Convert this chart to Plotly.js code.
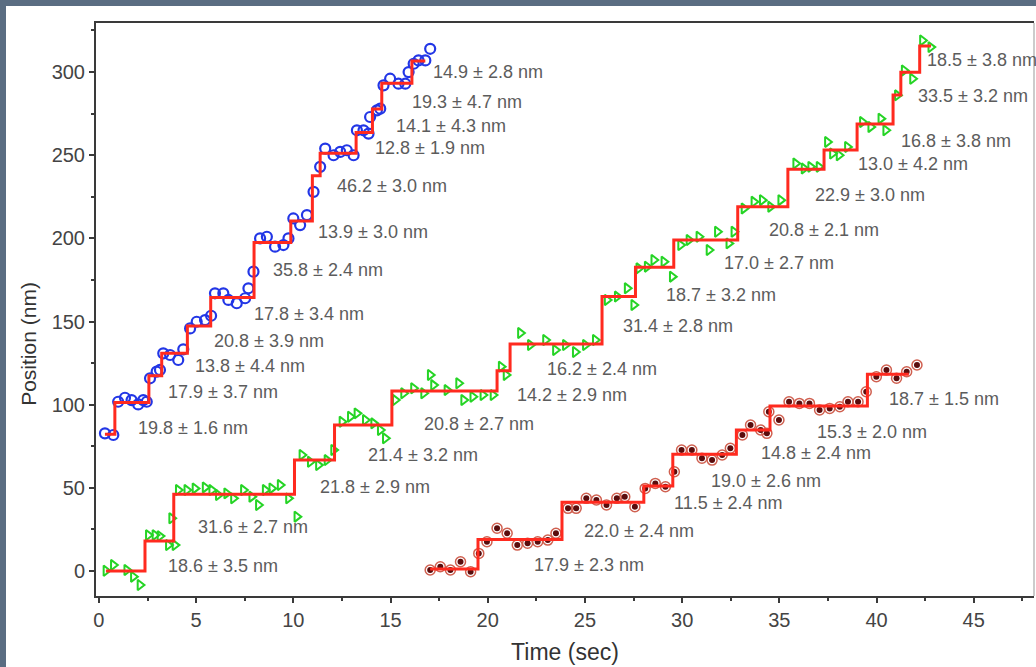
<!DOCTYPE html>
<html>
<head>
<meta charset="utf-8">
<script src="https://cdn.plot.ly/plotly-3.0.1.min.js"></script>
<style>
html,body{margin:0;padding:0;background:#5a6d82;width:1036px;height:667px;overflow:hidden;}
#chart{position:absolute;left:6px;top:6px;width:1030px;height:661px;background:#fff;}
</style>
</head>
<body>
<div id="chart"></div>
<script>
// ---- Blue trace (open circles) ----
const blueT = [0.31,0.74, 0.99,1.34,1.68,2.02,2.28,2.46, 2.63,2.97,3.14, 3.31,3.66,4.08,4.34,
  4.69,5.03,5.46,5.77, 5.97,6.40,6.66,7.09,7.52,7.69, 7.95, 8.29,8.64,9.06,9.49,9.75,
  10.00,10.35,10.70, 11.04, 11.38, 11.64,12.07,12.41,12.75,13.10, 13.27,13.61,13.87, 13.95,
  14.30,14.47, 14.64,14.98,15.41,15.76, 15.93,16.19, 16.44,16.79,17.04];
const blueV = [82.8,81.8, 101.8,104.2,102.8,100.2,102.8,101.8, 115.9,119.9,120.9, 130.9,129.9,126.9,133.3,
  145.9,149.9,150.9,153.5, 167,167,163,161,164,170, 180, 200,201,195,196,200,
  212,208,214, 228, 243, 254,250,252,253,250, 265,265,263, 273,
  277,278, 292,296,293,293, 300,305, 307,307,314];
const blueStepT = [0.31,0.82,2.57,3.23,4.55,5.75,7.98,9.87,10.98,11.38,13.23,14.07,14.55,16.10,16.79];
const blueStepV = [82.2,101.4,117.4,130.9,147.3,164.4,197.6,210.5,237.7,251.2,263.6,277.8,293.3,306.7,306.7];

// ---- Green trace (open right triangles) ----
const greenT = [0.36,0.74,1.43,1.77,2.11, 2.54,2.88,3.14,3.57,3.91, 3.74,
  4.08,4.52,4.94,5.46,5.80,6.14,6.57,6.92,7.43,7.86,8.20,8.55,8.89,9.32,9.75, 10.18,
  10.44,10.87,11.29,11.73,12.07, 12.50,12.93,13.27,13.70,14.13,14.47,14.73,
  15.24,15.67,16.18,16.70,17.04,17.21,17.90,18.50,18.76,19.23,19.75,20.27, 20.69,20.94,
  21.68,22.19,22.97,23.48,23.99,24.50,25.02,25.53,
  26.14,26.66,27.17,27.51, 27.77,28.20,28.54,29.06,29.49,
  29.92,30.35,30.86,31.38,31.81,32.40,32.66,
  33.18,33.69,34.12,34.55,35.07, 35.84,36.27,36.61,37.04,
  37.47,37.73,38.07,38.50, 39.27,39.70,40.22,40.47, 41.07, 41.42,41.85, 42.36,42.79];
const greenV = [0.2,3.6,0.6,-3.4,-8.4, 21.6,21.6,21.0,15.6,15.6, 31.7,
  48.7,48.7,49.7,50.3,48.7,45.7,46.7,43.7,48.7,44.7,39.7,48.7,49.7,51.7,43.7, 32.7,
  69.8,65.7,63.7,66.7,72.8, 89.8,92.8,94.8,90.8,88.8,84.8,79.8,
  102.8,106.9,109.9,106.9,117.9,111.8,108.8,112.9,102.8,104.8,105.8,105.8, 122.9,117.9,
  143.1,135.9,138.9,132.9,135.9,131.7,135.9,138.9,
  163,165,170,160, 182,183,187,186,177,
  196,199,201,193,204,197,204,
  218,222,223,219,223, 245,242,243,243,
  258,251,250,255, 270,267,272,265, 286, 301,296, 319,315];
const greenStepT = [0.36,2.37,3.85,10.06,12.12,15.07,20.48,21.15,25.88,27.60,29.57,32.86,35.44,37.30,39.00,40.85,41.25,42.22,42.80];
const greenStepV = [0,18,46.1,66.7,87.8,108.2,120.5,136.5,165.0,182.6,199.0,219.0,241.5,253.2,268.8,286.2,299.9,315.7,315.7];

// ---- Dark red trace (half-filled circles) ----
const redT = [17.04,17.56,18.08,18.60,19.12, 19.54,
  19.96,20.48,21.00,21.52,22.05,22.57,23.09,23.51,
  24.13,24.55,25.07,25.59,26.11,26.64,27.05,27.57,
  28.10,28.62,29.14, 29.60,
  29.97,30.50,31.02,31.54,32.06,32.48,
  33.10,33.52,34.04,34.36, 34.46,34.98,
  35.50,36.03,36.55,37.07,37.59,38.11,38.53,39.05, 39.47,
  39.99,40.51,41.03,41.55,42.08];
const redV = [0.6,2.6,0.6,5.6,-0.4, 10.6,
  17.6,25.7,22.7,15.6,16.7,17.6,18.6,22.7,
  37.7,37.7,43.7,42.7,39.7,43.7,44.7,38.7,
  49.7,52.7,50.7, 59.7,
  72.8,72.8,67.8,66.7,69.8,73.8,
  81.8,87.8,84.8,82.8, 95.8,90.8,
  101.8,100.8,100.8,96.8,97.8,98.8,101.8,101.8, 107.8,
  116.8,120.9,115.9,119.8,123.9];
const redStepT = [17.04,19.50,23.82,28.03,29.52,32.79,34.52,39.53,41.66];
const redStepV = [1.2,19.0,41.3,51.1,70.2,84.8,99.2,118.3,118.3];

// ---- Step-size labels ----
const labelText = [
  "14.9 ± 2.8 nm","19.3 ± 4.7 nm","14.1 ± 4.3 nm","12.8 ± 1.9 nm","46.2 ± 3.0 nm","13.9 ± 3.0 nm",
  "35.8 ± 2.4 nm","17.8 ± 3.4 nm","20.8 ± 3.9 nm","13.8 ± 4.4 nm","17.9 ± 3.7 nm","19.8 ± 1.6 nm",
  "18.6 ± 3.5 nm","31.6 ± 2.7 nm","21.8 ± 2.9 nm","21.4 ± 3.2 nm","20.8 ± 2.7 nm","14.2 ± 2.9 nm",
  "16.2 ± 2.4 nm","31.4 ± 2.8 nm","18.7 ± 3.2 nm","17.0 ± 2.7 nm","20.8 ± 2.1 nm","22.9 ± 3.0 nm",
  "13.0 ± 4.2 nm","16.8 ± 3.8 nm","33.5 ± 3.2 nm","18.5 ± 3.8 nm",
  "17.9 ± 2.3 nm","22.0 ± 2.4 nm","11.5 ± 2.4 nm","19.0 ± 2.6 nm","14.8 ± 2.4 nm","15.3 ± 2.0 nm","18.7 ± 1.5 nm"];
const labelT = [17.10,16.01,15.19,14.11,12.15,11.17, 8.86,7.88,5.82,4.84,3.45,1.91,
  3.45,4.99,11.28,13.75,16.63,21.42, 22.95,26.83,29.09,32.03,34.35,36.71, 38.93,41.14,42.02,42.48,
  22.30,24.85,29.50,31.40,33.95,36.85,40.52];
const labelV = [300.1,282.0,267.6,254.4,231.5,203.8, 181.0,154.5,138.3,123.3,107.6,86.0,
  3.0,26.5,50.5,69.8,88.6,105.8, 121.7,147.3,166.0,185.2,205.1,226.1, 244.7,258.6,285.6,307.3,
  3.9,23.8,40.9,53.9,71.2,83.7,103.3];

const xTicks = [0,5,10,15,20,25,30,35,40,45];
const yTicks = [0,50,100,150,200,250,300];

const FONT = 'Liberation Sans, Arial, sans-serif';
const stepLine = {color:'#ff2a1f', width:3, shape:'hv'};
const traces = [
  {x:blueT, y:blueV, mode:'markers', type:'scatter',
   marker:{symbol:'circle-open', size:10, color:'#2236e6', line:{width:2.2, color:'#2236e6'}}},
  {x:greenT, y:greenV, mode:'markers', type:'scatter',
   marker:{symbol:'triangle-right-open', size:9, color:'#25d425', line:{width:2, color:'#25d425'}}},
  {x:redT, y:redV, mode:'markers', type:'scatter',
   marker:{symbol:'circle-open', size:10, color:'#d06050', line:{width:1.5, color:'#d06050'}}},
  {x:redT, y:redV, mode:'markers', type:'scatter',
   marker:{symbol:'circle', size:6, color:'#5a0c0c', line:{width:0}}},
  {x:blueStepT, y:blueStepV, mode:'lines', type:'scatter', line:stepLine},
  {x:greenStepT, y:greenStepV, mode:'lines', type:'scatter', line:stepLine},
  {x:redStepT, y:redStepV, mode:'lines', type:'scatter', line:stepLine}
];

const annotations = labelText.map((t,i)=>({
  x:labelT[i], y:labelV[i], xref:'x', yref:'y', text:t, showarrow:false,
  xanchor:'left', yanchor:'middle',
  font:{family:FONT, size:18, color:'#5c5c5c'}
}));
// y-axis title placed as annotation (sits below the plot centre in the reference)
annotations.push({
  xref:'paper', yref:'paper', x:-0.0715, y:0.44, xanchor:'center', yanchor:'middle',
  text:'Position (nm)', textangle:-90, showarrow:false,
  font:{family:FONT, size:21, color:'#333'}
});

const axisCommon = {
  showgrid:false, zeroline:false, showline:true, linecolor:'#3a3a3a', linewidth:2,
  ticks:'outside', ticklen:5, tickwidth:2, tickcolor:'#3a3a3a',
  tickfont:{family:FONT, size:20, color:'#444'}
};

const layout = {
  width:1030, height:661,
  margin:{l:90, r:2, t:17, b:71},
  paper_bgcolor:'#ffffff', plot_bgcolor:'#ffffff',
  showlegend:false,
  xaxis:Object.assign({}, axisCommon, {
    range:[-0.15,48.1], tickvals:xTicks, ticktext:xTicks.map(String), mirror:true,
    minor:{tickvals:[2.5,7.5,12.5,17.5,22.5,27.5,32.5,37.5,42.5,47.5], ticks:'outside', ticklen:3, tickwidth:2, tickcolor:'#3a3a3a'},
    title:{text:'Time (sec)', standoff:14, font:{family:FONT, size:23, color:'#333'}}
  }),
  yaxis:Object.assign({}, axisCommon, {
    range:[-15,329.5], tickvals:yTicks, ticktext:yTicks.map(String),
    minor:{tickvals:[25,75,125,175,225,275,325], ticks:'outside', ticklen:3, tickwidth:2, tickcolor:'#3a3a3a'}
  }),
  shapes:[{type:'line', xref:'paper', yref:'paper', x0:1, x1:1, y0:0, y1:1, line:{color:'#bbbbbb', width:1.5}}],
  annotations:annotations
};

Plotly.newPlot('chart', traces, layout, {displayModeBar:false, staticPlot:true});
</script>
</body>
</html>
